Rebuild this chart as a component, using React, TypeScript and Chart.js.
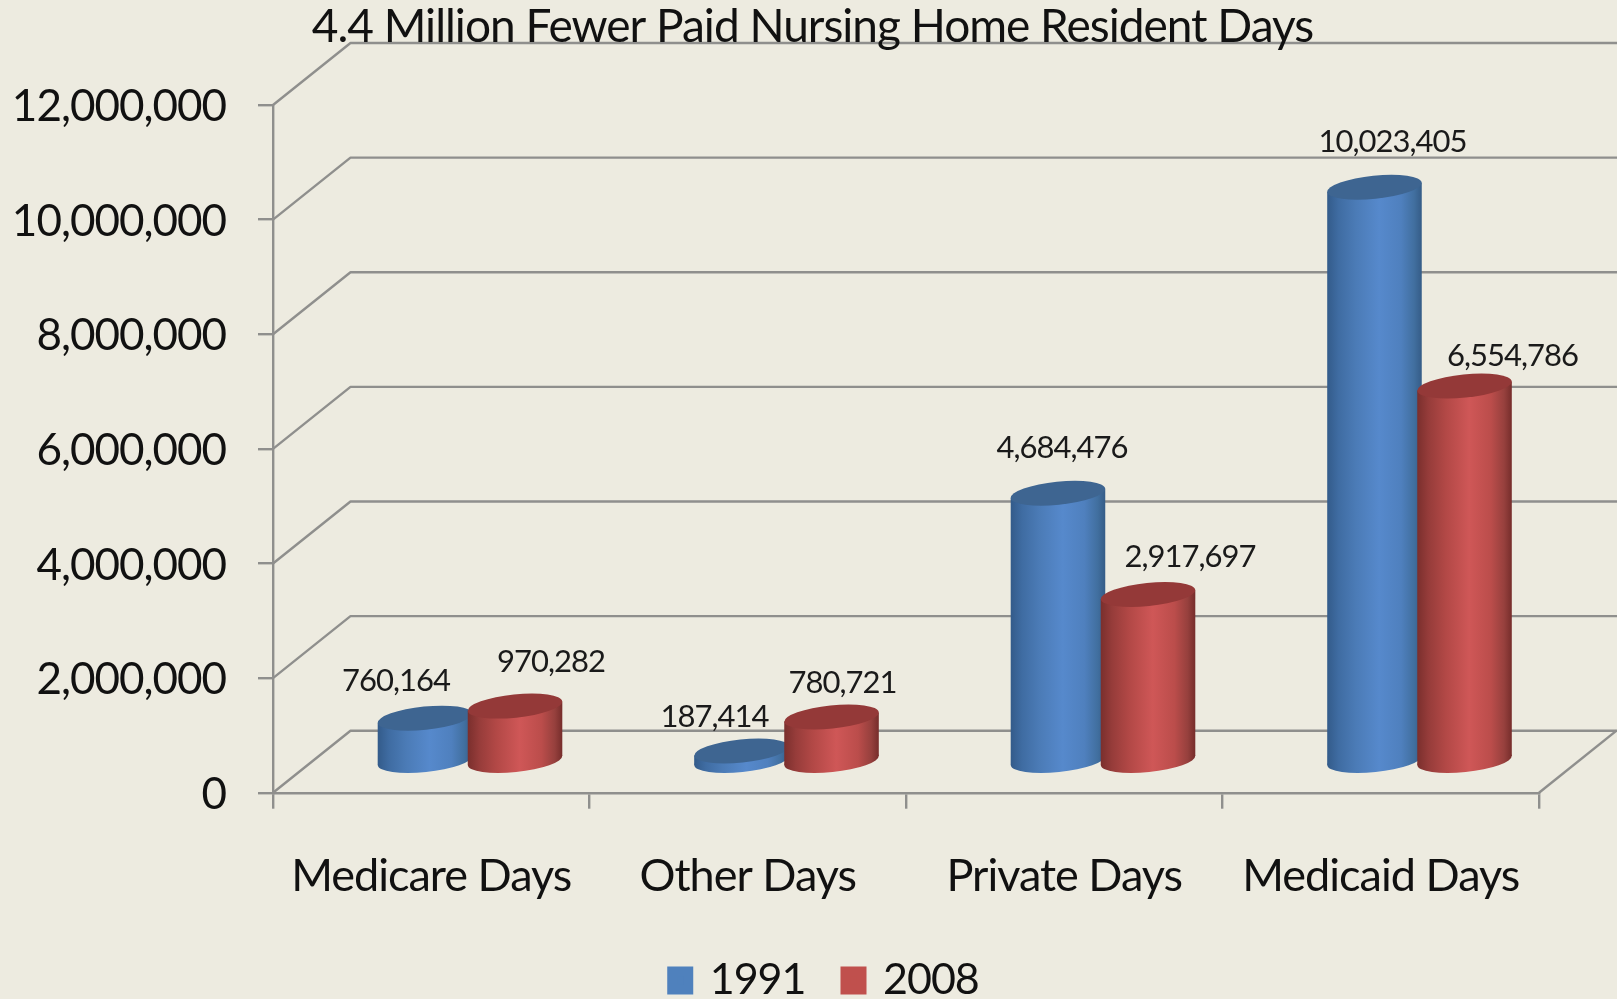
import React, { useEffect, useRef } from "react";
import { Chart, registerables } from "chart.js";

Chart.register(...registerables);

const TITLE = "4.4 Million Fewer Paid Nursing Home Resident Days";
const categories = ["Medicare Days", "Other Days", "Private Days", "Medicaid Days"];
const seriesNames = ["1991", "2008"];
const values1991 = [760164, 187414, 4684476, 10023405];
const values2008 = [970282, 780721, 2917697, 6554786];

// hand placement of the value labels, relative to each cylinder's top centre
const labelNudge1991 = [[-29, -37], [-27, -34], [4, -45], [18, -45]];
const labelNudge2008 = [[36, -44], [11, -34], [42, -37], [48, -30]];

const BG = "#EDEBE0";
const LINE = "#8F8F8D";
const INK = "#111111";
const FONT = "Lato";
const DEPTH_X = 77.5;
const DEPTH_Y = 62;
const TILT = (-5.8 * Math.PI) / 180;
const SPACING = "-1px";
const AXIS_BOTTOM = 792.7;
const LEGEND_TOP = 919;

const looks = [
  {
    top: "#3E6591",
    stops: [[0, "#335B8A"], [0.12, "#3F6CA2"], [0.3, "#4B7BB6"], [0.55, "#5689CC"], [0.78, "#4F80BE"], [0.92, "#416F9F"], [1, "#355C87"]],
    nudge: labelNudge1991,
  },
  {
    top: "#943938",
    stops: [[0, "#7A2F2D"], [0.12, "#963C3A"], [0.3, "#B24846"], [0.55, "#CF5757"], [0.78, "#BB4D4B"], [0.92, "#96403D"], [1, "#762D2B"]],
    nudge: labelNudge2008,
  },
];

function cylinder(ctx: CanvasRenderingContext2D, bar: any, look: any) {
  const { x, y, base, width } = bar.getProps(["x", "y", "base", "width"], true);
  const cx = x + DEPTH_X / 2;
  const topY = y - DEPTH_Y / 2;
  const botY = base - DEPTH_Y / 2;
  const half = width / 2;
  const a = half * 1.004;
  const b = 11.6;
  const lean = 4.5;
  const grad = ctx.createLinearGradient(cx - half, 0, cx + half, 0);
  look.stops.forEach((s: any) => grad.addColorStop(s[0], s[1]));
  ctx.save();
  ctx.fillStyle = grad;
  ctx.beginPath();
  ctx.ellipse(cx, botY, a, b, TILT, 0, Math.PI * 2);
  ctx.fill();
  ctx.beginPath();
  ctx.moveTo(cx - half, topY + lean);
  ctx.lineTo(cx + half, topY - lean);
  ctx.lineTo(cx + half, botY - lean);
  ctx.lineTo(cx - half, botY + lean);
  ctx.closePath();
  ctx.fill();
  ctx.fillStyle = look.top;
  ctx.beginPath();
  ctx.ellipse(cx, topY, a, b, TILT, 0, Math.PI * 2);
  ctx.fill();
  ctx.restore();
}

const cylinderPlugin = {
  id: "cylinders",
  beforeLayout(chart: any) {
    chart.ctx.letterSpacing = SPACING;
  },
  afterLayout(chart: any) {
    // nudge the title and the legend to where the reference has them
    chart.titleBlock.left += 43;
    chart.titleBlock.right += 43;
    chart.legend.left += 56;
    chart.legend.right += 56;
    chart.legend.bottom = LEGEND_TOP + chart.legend.height;
    chart.legend.top = LEGEND_TOP;
  },
  beforeDraw(chart: any) {
    const { ctx, canvas, scales } = chart;
    ctx.letterSpacing = SPACING;
    const yS = scales.y;
    const xS = scales.x;
    ctx.save();
    ctx.fillStyle = BG;
    ctx.fillRect(0, 0, canvas.width, canvas.height);
    ctx.strokeStyle = LINE;
    ctx.lineWidth = 2.4;
    ctx.lineJoin = "round";
    yS.ticks.forEach((t: any) => {
      const py = yS.getPixelForValue(t.value);
      ctx.beginPath();
      ctx.moveTo(xS.left, py);
      ctx.lineTo(xS.left + DEPTH_X, py - DEPTH_Y);
      ctx.lineTo(canvas.width, py - DEPTH_Y);
      ctx.stroke();
    });
    const y0 = yS.getPixelForValue(0);
    ctx.beginPath();
    ctx.moveTo(xS.right, y0);
    ctx.lineTo(xS.right + DEPTH_X, y0 - DEPTH_Y);
    ctx.stroke();
    ctx.restore();
  },
  beforeDatasetsDraw(chart: any) {
    const { ctx } = chart;
    chart.data.datasets.forEach((_: any, i: number) => {
      chart.getDatasetMeta(i).data.forEach((bar: any) => cylinder(ctx, bar, looks[i]));
    });
    ctx.save();
    ctx.font = `31px ${FONT}`;
    ctx.letterSpacing = "-1px";
    ctx.fillStyle = "#1a1a1a";
    ctx.textAlign = "center";
    ctx.textBaseline = "middle";
    chart.data.datasets.forEach((ds: any, i: number) => {
      chart.getDatasetMeta(i).data.forEach((bar: any, j: number) => {
        const { x, y } = bar.getProps(["x", "y"], true);
        const n = looks[i].nudge[j];
        ctx.fillText(ds.data[j].toLocaleString("en-US"), x + DEPTH_X / 2 + n[0], y - DEPTH_Y / 2 + n[1]);
      });
    });
    ctx.restore();
    return false;
  },
};

export default function App() {
  const ref = useRef<HTMLCanvasElement | null>(null);
  useEffect(() => {
    document.body.style.margin = "0";
    document.body.style.background = BG;
    const chart = new Chart(ref.current as HTMLCanvasElement, {
      type: "bar",
      data: {
        labels: categories,
        datasets: [
          { label: seriesNames[0], data: values1991, backgroundColor: "#4F81BD" },
          { label: seriesNames[1], data: values2008, backgroundColor: "#C0504D" },
        ],
      },
      plugins: [cylinderPlugin],
      options: {
        animation: false,
        responsive: false,
        devicePixelRatio: 1,
        categoryPercentage: 0.569,
        barPercentage: 1.05,
        layout: { padding: { left: 0, right: 78, top: 0, bottom: 0 } },
        plugins: {
          tooltip: { enabled: false },
          title: {
            display: true,
            text: TITLE,
            color: INK,
            font: { family: FONT, size: 46, weight: "normal", lineHeight: 1.2 },
            padding: { top: 0, bottom: 105 - 46 * 1.2 },
          },
          legend: {
            display: true,
            position: "bottom",
            labels: {
              font: { family: FONT, size: 43 },
              color: INK,
              boxWidth: 16,
              boxHeight: 18,
              padding: 40,
              generateLabels: (c: any) =>
                c.data.datasets.map((d: any, i: number) => ({
                  text: d.label,
                  fillStyle: d.backgroundColor,
                  strokeStyle: d.backgroundColor,
                  lineWidth: 10,
                  fontColor: INK,
                  datasetIndex: i,
                })),
            },
          },
        },
        scales: {
          x: {
            grid: { drawOnChartArea: false, color: LINE, lineWidth: 2.4, tickLength: 16, offset: true },
            border: { color: LINE, width: 2.4 },
            ticks: {
              color: INK,
              font: { family: FONT, size: 45 },
              padding: 41,
              maxRotation: 0,
              autoSkip: false,
            },
            afterFit: (s: any) => {
              s.height = 999 - AXIS_BOTTOM - s.chart.legend.height;
            },
          },
          y: {
            min: 0,
            max: 12000000,
            grid: { drawOnChartArea: false, color: LINE, lineWidth: 2.4, tickLength: 15 },
            border: { color: LINE, width: 2.4 },
            ticks: {
              stepSize: 2000000,
              color: INK,
              font: { family: FONT, size: 44 },
              padding: 32,
              labelOffset: 2,
              callback: (v: any) => Number(v).toLocaleString("en-US"),
            },
            afterFit: (s: any) => {
              s.width = 273;
            },
          },
        },
      } as any,
    });
    return () => chart.destroy();
  }, []);
  return (
    <canvas
      ref={ref}
      width={1617}
      height={999}
      style={{ display: "block", width: 1617, height: 999, filter: "blur(0.5px)" }}
    />
  );
}
